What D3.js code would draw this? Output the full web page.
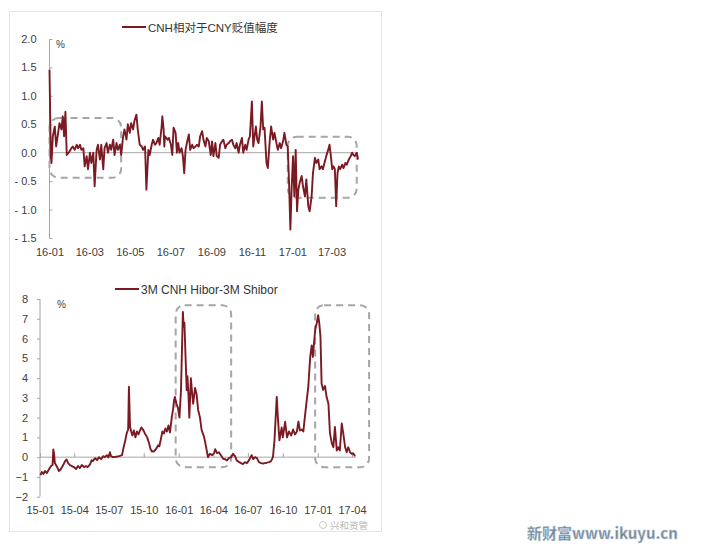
<!DOCTYPE html>
<html>
<head>
<meta charset="utf-8">
<script src="https://cdn.jsdelivr.net/npm/d3@7"></script>
<style>
  html, body { margin: 0; padding: 0; background: #ffffff; }
  svg { display: block; }
  text { font-family: "Liberation Sans", "Noto Sans CJK SC", sans-serif; }
</style>
</head>
<body>
<svg id="chart" width="708" height="549"></svg>
<script>
// ---------------- DATA ----------------
const topTitle = "CNH相对于CNY贬值幅度";
const bottomTitle = "3M CNH Hibor-3M Shibor";
const unitLabel = "%";

const topYTicks = [2.0, 1.5, 1.0, 0.5, 0.0, -0.5, -1.0, -1.5];
const topYLabels = ["2.0", "1.5", "1.0", "0.5", "0.0", "- 0.5", "- 1.0", "- 1.5"];
const topXTickLabels = ["16-01", "16-03", "16-05", "16-07", "16-09", "16-11", "17-01", "17-03"];

const bottomYTicks = [8, 7, 6, 5, 4, 3, 2, 1, 0, -1, -2];
const bottomXTickLabels = ["15-01", "15-04", "15-07", "15-10", "16-01", "16-04", "16-07", "16-10", "17-01", "17-04"];

// CNH vs CNY depreciation (%)
const cnhDates = [
 "2016-01-01","2016-01-03","2016-01-04","2016-01-06","2016-01-09","2016-01-11","2016-01-14","2016-01-16","2016-01-19","2016-01-21",
 "2016-01-23","2016-01-25","2016-01-27","2016-01-31","2016-02-03","2016-02-05","2016-02-08","2016-02-11","2016-02-13","2016-02-16",
 "2016-02-18","2016-02-21","2016-02-23","2016-02-26","2016-02-28","2016-03-02","2016-03-04","2016-03-07","2016-03-09","2016-03-12",
 "2016-03-14","2016-03-17","2016-03-19","2016-03-22","2016-03-24","2016-03-27","2016-03-29","2016-04-01","2016-04-03","2016-04-06",
 "2016-04-08","2016-04-11","2016-04-13","2016-04-16","2016-04-18","2016-04-21","2016-04-23","2016-04-26","2016-04-28","2016-05-01",
 "2016-05-03","2016-05-06","2016-05-08","2016-05-11","2016-05-13","2016-05-16","2016-05-19","2016-05-21","2016-05-24","2016-05-26",
 "2016-05-29","2016-05-31","2016-06-03","2016-06-05","2016-06-08","2016-06-10","2016-06-13","2016-06-15","2016-06-18","2016-06-19",
 "2016-06-21","2016-06-22","2016-06-23","2016-06-27","2016-06-29","2016-07-02","2016-07-04","2016-07-06","2016-07-09","2016-07-11",
 "2016-07-13","2016-07-15","2016-07-18","2016-07-20","2016-07-22","2016-07-24","2016-07-26","2016-07-29","2016-07-31","2016-08-03",
 "2016-08-05","2016-08-08","2016-08-10","2016-08-13","2016-08-15","2016-08-18","2016-08-20","2016-08-23","2016-08-25","2016-08-28",
 "2016-08-31","2016-09-02","2016-09-04","2016-09-07","2016-09-09","2016-09-12","2016-09-14","2016-09-17","2016-09-19","2016-09-22",
 "2016-09-24","2016-09-27","2016-09-29","2016-10-02","2016-10-04","2016-10-07","2016-10-09","2016-10-12","2016-10-14","2016-10-17",
 "2016-10-19","2016-10-22","2016-10-24","2016-10-27","2016-10-29","2016-11-01","2016-11-03","2016-11-07","2016-11-09","2016-11-11",
 "2016-11-14","2016-11-16","2016-11-18","2016-11-20","2016-11-23","2016-11-25","2016-11-28","2016-11-30","2016-12-03","2016-12-05",
 "2016-12-08","2016-12-10","2016-12-13","2016-12-15","2016-12-18","2016-12-20","2016-12-23","2016-12-25","2016-12-27","2016-12-29",
 "2016-12-31","2017-01-02","2017-01-04","2017-01-06","2017-01-08","2017-01-10","2017-01-12","2017-01-15","2017-01-17","2017-01-20",
 "2017-01-22","2017-01-25","2017-01-27","2017-01-30","2017-02-01","2017-02-04","2017-02-06","2017-02-09","2017-02-11","2017-02-14",
 "2017-02-16","2017-02-19","2017-02-21","2017-02-24","2017-02-26","2017-02-28","2017-03-02","2017-03-04","2017-03-06","2017-03-08",
 "2017-03-10","2017-03-12","2017-03-14","2017-03-17","2017-03-19","2017-03-22","2017-03-24","2017-03-27","2017-03-30","2017-04-01",
 "2017-04-03","2017-04-05","2017-04-08","2017-04-10"
];
const cnhValues = [
 1.46,-0.06,-0.18,0.29,0.46,0.11,0.35,0.52,0.41,0.64,
 0.29,0.72,-0.04,0.02,0.08,0.11,0.05,0.14,0.08,0.14,
 0.05,0.08,-0.24,-0.06,-0.29,0.00,-0.18,0.00,-0.59,0.05,
 0.14,-0.12,0.14,-0.29,0.08,0.17,0.00,0.14,0.05,0.23,
 -0.04,0.17,0.05,0.14,-0.04,0.29,0.41,0.23,0.50,0.35,
 0.52,0.41,0.56,0.67,0.41,0.14,0.11,0.05,0.11,-0.65,
 0.05,-0.04,0.14,0.23,0.14,0.17,0.26,0.14,0.46,0.64,
 0.41,0.11,0.29,0.23,0.26,0.14,-0.04,0.44,0.35,0.00,
 0.17,0.00,0.08,-0.06,-0.36,0.05,0.17,0.32,0.05,0.14,
 0.08,0.11,0.14,0.11,0.29,0.38,0.23,0.11,0.26,0.20,
 -0.04,0.20,-0.06,0.17,-0.06,-0.09,0.14,0.20,0.23,0.08,
 0.14,0.17,0.20,0.23,0.14,0.08,0.17,0.00,0.14,0.26,
 0.00,0.14,0.05,0.23,0.29,0.90,0.11,0.46,0.23,0.17,
 0.46,0.90,0.41,0.44,-0.18,-0.27,0.23,0.46,0.23,0.35,
 0.17,0.05,0.17,0.08,0.20,0.35,0.14,0.11,-0.53,-1.35,
 -0.59,-0.06,-0.77,0.05,-1.03,-0.65,-0.53,-0.41,-0.59,-0.77,
 -0.47,-0.94,-1.03,-0.77,-0.36,-0.09,-0.18,-0.12,-0.29,-0.24,
 -0.29,-0.15,-0.06,0.05,0.14,-0.06,-0.29,-0.24,-0.29,-0.94,
 -0.36,-0.24,-0.29,-0.21,-0.27,-0.18,-0.21,-0.12,-0.06,0.00,
 -0.04,-0.06,0.00,-0.12
];

// 3M CNH Hibor - 3M Shibor (%)
const hiborDates = [
 "2015-01-02","2015-01-06","2015-01-10","2015-01-14","2015-01-19","2015-01-25","2015-01-30","2015-02-03","2015-02-05","2015-02-07",
 "2015-02-09","2015-02-15","2015-02-20","2015-02-25","2015-03-03","2015-03-08","2015-03-12","2015-03-16","2015-03-21","2015-03-26",
 "2015-03-31","2015-04-06","2015-04-11","2015-04-16","2015-04-21","2015-04-27","2015-05-02","2015-05-07","2015-05-13","2015-05-17",
 "2015-05-20","2015-05-26","2015-05-31","2015-06-05","2015-06-11","2015-06-16","2015-06-21","2015-06-26","2015-06-30","2015-07-04",
 "2015-07-07","2015-07-12","2015-07-20","2015-07-28","2015-08-05","2015-08-09","2015-08-13","2015-08-17","2015-08-21","2015-08-23",
 "2015-08-26","2015-08-29","2015-09-01","2015-09-05","2015-09-09","2015-09-13","2015-09-17","2015-09-21","2015-09-25","2015-09-29",
 "2015-10-04","2015-10-10","2015-10-15","2015-10-19","2015-10-23","2015-10-28","2015-11-02","2015-11-08","2015-11-11","2015-11-15",
 "2015-11-19","2015-11-23","2015-11-27","2015-12-01","2015-12-05","2015-12-09","2015-12-14","2015-12-17","2015-12-20","2015-12-22",
 "2015-12-26","2015-12-30","2016-01-03","2016-01-07","2016-01-12","2016-01-14","2016-01-16","2016-01-19","2016-01-22","2016-01-24",
 "2016-01-27","2016-01-29","2016-02-02","2016-02-05","2016-02-08","2016-02-13","2016-02-17","2016-02-21","2016-02-26","2016-03-01",
 "2016-03-08","2016-03-13","2016-03-18","2016-03-23","2016-03-29","2016-04-03","2016-04-06","2016-04-11","2016-04-16","2016-04-21",
 "2016-04-27","2016-05-02","2016-05-07","2016-05-12","2016-05-18","2016-05-23","2016-05-28","2016-06-02","2016-06-08","2016-06-13",
 "2016-06-18","2016-06-23","2016-06-29","2016-07-04","2016-07-11","2016-07-15","2016-07-20","2016-07-25","2016-07-30","2016-08-05",
 "2016-08-10","2016-08-15","2016-08-20","2016-08-26","2016-08-31","2016-09-05","2016-09-09","2016-09-15","2016-09-18","2016-09-22",
 "2016-09-28","2016-10-01","2016-10-07","2016-10-12","2016-10-17","2016-10-23","2016-10-28","2016-11-02","2016-11-07","2016-11-11",
 "2016-11-15","2016-11-20","2016-11-24","2016-11-28","2016-12-03","2016-12-07","2016-12-12","2016-12-16","2016-12-19","2016-12-25",
 "2016-12-29","2017-01-02","2017-01-05","2017-01-08","2017-01-11","2017-01-15","2017-01-20","2017-01-24","2017-01-29","2017-02-02",
 "2017-02-07","2017-02-11","2017-02-15","2017-02-20","2017-02-24","2017-02-28","2017-03-05","2017-03-09","2017-03-14","2017-03-18",
 "2017-03-22","2017-03-27","2017-03-31","2017-04-04","2017-04-09"
];
const hiborValues = [
 -0.91,-0.75,-0.85,-0.70,-0.80,-0.60,-0.45,-0.40,0.39,0.20,
 -0.30,-0.50,-0.70,-0.60,-0.40,-0.20,-0.12,-0.30,-0.40,-0.45,
 -0.50,-0.60,-0.45,-0.55,-0.40,-0.50,-0.45,-0.50,-0.35,-0.15,
 -0.20,-0.05,-0.15,0.00,-0.10,0.05,0.00,0.10,-0.02,0.25,
 0.05,0.00,0.02,0.05,0.10,0.50,0.80,1.20,1.40,3.56,
 1.53,1.30,1.10,1.35,1.00,1.30,1.15,1.35,1.50,1.40,
 1.20,1.00,0.70,0.40,0.28,0.30,0.40,0.60,0.55,0.90,
 1.30,1.20,1.45,1.30,1.60,1.25,2.04,2.40,2.90,3.05,
 2.70,2.50,2.00,3.40,7.35,6.60,6.80,5.07,3.40,4.10,
 3.00,2.00,4.00,3.30,2.70,3.50,3.20,2.40,2.00,1.40,
 1.00,0.52,0.00,0.17,0.10,0.20,0.40,0.20,0.25,0.10,
 -0.08,-0.10,-0.17,-0.05,0.00,0.17,0.05,-0.17,-0.25,-0.30,
 -0.35,-0.25,-0.30,-0.15,0.10,-0.10,0.00,-0.05,-0.25,-0.30,
 -0.32,-0.30,-0.28,-0.25,-0.20,0.00,0.85,3.05,2.00,0.85,
 1.50,1.00,1.79,1.00,1.30,1.10,1.40,1.15,1.30,1.80,
 1.35,1.40,1.30,2.04,2.90,3.56,5.07,5.65,5.07,6.43,
 6.76,7.18,6.76,6.10,3.73,3.40,3.60,3.05,2.70,1.20,
 0.70,0.50,1.53,0.34,0.50,0.34,1.70,1.20,0.50,0.25,
 0.50,0.25,0.17,0.20,0.05
];

// highlighted periods (dashed boxes): [start, end, top value, bottom value]
const topBoxes = [
  ["2016-01-01", "2016-04-18", 0.61, -0.44],
  ["2016-12-25", "2017-04-08", 0.28, -0.79]
];
const bottomBoxes = [
  ["2015-12-24", "2016-05-18", 7.69, -0.51],
  ["2016-12-25", "2017-05-16", 7.69, -0.51]
];

const watermark = "新财富www.ikuyu.cn";
const wechatMark = "兴和资管";

// ---------------- DRAWING ----------------
const parse = d3.timeParse("%Y-%m-%d");
const svg = d3.select("#chart");
const lineColor = "#7b1a22";
const axisColor = "#a6a6a6";
const textColor = "#404040";

svg.append("rect").attr("x", 9.5).attr("y", 11.5).attr("width", 372).attr("height", 520)
  .attr("fill", "#fff").attr("stroke", "#e4e4e4").attr("stroke-width", 1);

function drawBox(g, x, y, b) {
  const x0 = x(parse(b[0])), x1 = x(parse(b[1]));
  const y0 = y(b[2]), y1 = y(b[3]);
  g.append("rect").attr("x", x0).attr("y", y0).attr("width", x1 - x0).attr("height", y1 - y0)
    .attr("rx", 9).attr("ry", 9).attr("fill", "none")
    .attr("stroke", "#a5a5a5").attr("stroke-width", 2).attr("stroke-dasharray", "7,5");
}

// ===== Top chart =====
{
  const data = cnhDates.map((d, i) => ({ date: parse(d), value: cnhValues[i] }));
  const x = d3.scaleTime().domain([parse("2016-01-01"), parse("2017-04-12")]).range([49.5, 359.4]);
  const y = d3.scaleLinear().domain([-1.5, 2.0]).range([238, 39]);
  const g = svg.append("g");

  const yAxis = d3.axisLeft(y).tickValues(topYTicks).tickSize(-3)
    .tickFormat((d, i) => topYLabels[i]).tickPadding(13);
  const ya = g.append("g").attr("transform", "translate(49.5,0)").call(yAxis);
  ya.select(".domain").attr("stroke", axisColor).attr("d", `M0,${y(2.0)}V${y(-1.5)}`);
  ya.selectAll(".tick line").attr("stroke", axisColor);
  ya.selectAll(".tick text").attr("fill", textColor).style("font-size", "11px");

  g.append("line").attr("x1", x.range()[0]).attr("x2", x(parse("2017-04-10")))
    .attr("y1", y(0)).attr("y2", y(0)).attr("stroke", axisColor).attr("stroke-width", 1);

  const xAxis = d3.axisBottom(x).ticks(d3.timeMonth.every(2)).tickSize(0).tickPadding(10)
    .tickFormat((d, i) => topXTickLabels[i]);
  const xa = g.append("g").attr("transform", `translate(0,${y(-1.5)})`).call(xAxis);
  xa.select(".domain").remove();
  xa.selectAll(".tick text").attr("fill", textColor).style("font-size", "11px");

  topBoxes.forEach(b => drawBox(g, x, y, b));

  g.append("path").datum(data)
    .attr("d", d3.line().x(d => x(d.date)).y(d => y(d.value)))
    .attr("fill", "none").attr("stroke", lineColor).attr("stroke-width", 1.9).attr("stroke-linejoin", "round");

  g.append("text").attr("x", 56).attr("y", 48).text(unitLabel).attr("fill", textColor).style("font-size", "10px");

  g.append("line").attr("x1", 122).attr("x2", 146).attr("y1", 27).attr("y2", 27)
    .attr("stroke", lineColor).attr("stroke-width", 2);
  g.append("text").attr("x", 148).attr("y", 31.5).text(topTitle)
    .attr("fill", "#333").style("font-size", "11.5px");
}

// ===== Bottom chart =====
{
  const data = hiborDates.map((d, i) => ({ date: parse(d), value: hiborValues[i] }));
  const x = d3.scaleTime().domain([parse("2015-01-01"), parse("2017-04-01")]).range([40, 352]);
  const y = d3.scaleLinear().domain([-2, 8]).range([496.7, 299]);
  const g = svg.append("g");

  const yAxis = d3.axisLeft(y).tickValues(bottomYTicks).tickSize(3).tickFormat(d3.format("d")).tickPadding(9);
  const ya = g.append("g").attr("transform", "translate(40,0)").call(yAxis);
  ya.select(".domain").attr("stroke", axisColor).attr("d", `M0,${y(8)}V${y(-2)}`);
  ya.selectAll(".tick line").attr("stroke", axisColor);
  ya.selectAll(".tick text").attr("fill", textColor).style("font-size", "11px");

  const za = d3.axisTop(x).ticks(d3.timeMonth.every(3)).tickSize(4).tickFormat("");
  const zg = g.append("g").attr("transform", `translate(0,${y(0)})`).call(za);
  zg.select(".domain").attr("stroke", axisColor).attr("d", `M${x.range()[0]},0H${x(parse("2017-04-12"))}`);
  zg.selectAll(".tick line").attr("stroke", axisColor);

  const xAxis = d3.axisBottom(x).ticks(d3.timeMonth.every(3)).tickSize(0).tickPadding(10)
    .tickFormat((d, i) => bottomXTickLabels[i]);
  const xa = g.append("g").attr("transform", `translate(0,${y(-2)})`).call(xAxis);
  xa.select(".domain").remove();
  xa.selectAll(".tick text").attr("fill", textColor).style("font-size", "11px");

  bottomBoxes.forEach(b => drawBox(g, x, y, b));

  g.append("path").datum(data)
    .attr("d", d3.line().x(d => x(d.date)).y(d => y(d.value)))
    .attr("fill", "none").attr("stroke", lineColor).attr("stroke-width", 1.9).attr("stroke-linejoin", "round");

  g.append("text").attr("x", 57).attr("y", 308).text(unitLabel).attr("fill", textColor).style("font-size", "10px");

  g.append("line").attr("x1", 115).attr("x2", 139).attr("y1", 289).attr("y2", 289)
    .attr("stroke", lineColor).attr("stroke-width", 2);
  g.append("text").attr("x", 141).attr("y", 293.5).text(bottomTitle)
    .attr("fill", "#333").style("font-size", "12px");
}

// watermarks (kept clear of the axis labels)
svg.append("circle").attr("cx", 323).attr("cy", 525).attr("r", 3.5)
  .attr("fill", "none").attr("stroke", "#c8c8c8").attr("stroke-width", 1);
svg.append("text").attr("x", 330).attr("y", 528.5).text(wechatMark)
  .attr("fill", "#b8b8b8").style("font-size", "9.5px").style("font-family", "Noto Sans CJK SC");
svg.append("text").attr("x", 527).attr("y", 539).text(watermark)
  .attr("fill", "#7a8790").attr("stroke", "#b9d3e6").attr("stroke-width", 0.4)
  .style("font-size", "15px").style("font-weight", "bold").style("font-family", "Noto Sans CJK SC");
</script>
</body>
</html>
